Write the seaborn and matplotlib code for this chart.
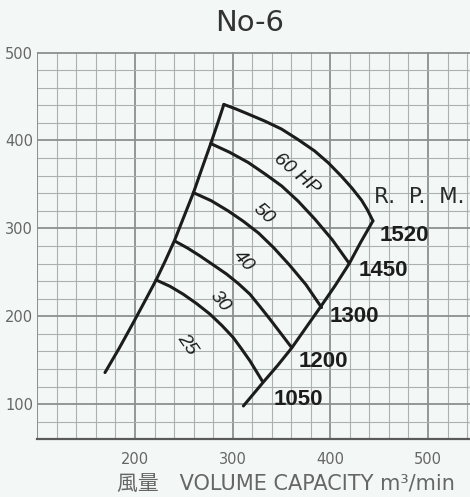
import pandas as pd
import seaborn as sns
import matplotlib.pyplot as plt
from matplotlib.ticker import MultipleLocator

# boundary curves (left = surge side, right = rpm line)
left_x = [291, 284.5, 277.6, 268.5, 259.9, 250, 240.6, 231, 221.5, 210, 198.3, 184, 169.3]
left_y = [441, 419, 396.5, 368, 340.7, 313, 286.6, 263, 241, 217, 192.8, 164, 136]
right_x = [443.6, 431, 419.4, 405, 390, 375, 360.5, 346, 331.3, 311]
right_y = [308.5, 284, 260, 235, 210.7, 187, 164, 144, 125, 98]

# constant horse-power curves
hp60_x = [291, 303, 316, 333, 350, 367, 384, 398, 411.6, 422, 432, 438, 443.6]
hp60_y = [441, 436, 430, 422, 413, 401, 388, 374.5, 359, 346, 332, 321, 308.5]
hp50_x = [277.6, 297, 316, 333, 350.1, 367, 384.2, 402, 419.4]
hp50_y = [396.5, 386.5, 374.9, 362, 348.3, 331, 310.5, 287, 260]
hp40_x = [259.7, 278, 295.2, 311, 326.7, 342, 358.2, 375, 391]
hp40_y = [340.7, 331.5, 320, 308, 294.5, 278, 258.3, 236, 210]
hp30_x = [240.9, 254, 266.5, 280, 293.9, 306, 317.7, 328, 338.2, 349, 360.4]
hp30_y = [285.5, 277.5, 268.7, 258.5, 247.9, 237, 225.1, 211, 196.7, 181, 164.4]
hp25_x = [221.5, 236, 249.4, 263, 276.8, 289, 300.6, 309, 317.7, 330.5]
hp25_y = [241.4, 234, 225.1, 214.5, 202.4, 189.5, 175.8, 163, 149.3, 126]

hp_labels = ["60 HP", "50", "40", "30", "25"]
hp_label_x = [365.5, 332, 311.4, 286.9, 252.9]
hp_label_y = [361.7, 316, 263, 216.7, 168.3]
hp_label_rot = [-40, -42, -48, -50, -55]

rpm_labels = ["1520", "1450", "1300", "1200", "1050"]
rpm_x = [450.8, 428.6, 399.6, 367.1, 341.6]
rpm_y = [291.5, 251.7, 199.3, 148.5, 105.7]

curves = {
    "left": (left_x, left_y),
    "right": (right_x, right_y),
    "60": (hp60_x, hp60_y),
    "50": (hp50_x, hp50_y),
    "40": (hp40_x, hp40_y),
    "30": (hp30_x, hp30_y),
    "25": (hp25_x, hp25_y),
}
rows = []
for name, (xs, ys) in curves.items():
    for i, (x, y) in enumerate(zip(xs, ys)):
        rows.append((name, i, x, y))
df = pd.DataFrame(rows, columns=["curve", "order", "volume", "pressure"])

sns.set_theme(style="whitegrid")
bg = "#f3f8f7"
fig = plt.figure(figsize=(4.70, 4.97), dpi=100, facecolor=bg)
ax = fig.add_axes([0.0794, 0.116, 0.9206, 0.780])
ax.set_facecolor(bg)

sns.lineplot(data=df, x="volume", y="pressure", units="curve", estimator=None,
             sort=False, color="#1c1c1c", linewidth=2.2, ax=ax, legend=False,
             solid_joinstyle="round", solid_capstyle="round")

ax.set_xlim(100, 543)
ax.set_ylim(60, 501)
ax.set_xticks([200, 300, 400, 500])
ax.set_yticks([100, 200, 300, 400, 500])
ax.xaxis.set_minor_locator(MultipleLocator(20))
ax.yaxis.set_minor_locator(MultipleLocator(20))
ax.grid(which="major", color="#8a908e", linewidth=1.3)
ax.grid(which="minor", color="#abb1af", linewidth=0.8)
ax.tick_params(axis="both", which="both", length=0, labelsize=10.5,
               labelcolor="#666666")
ax.tick_params(axis="x", pad=9)
ax.tick_params(axis="y", pad=3)
for s in ["top", "right", "left"]:
    ax.spines[s].set_visible(False)
ax.spines["bottom"].set_color("#5a5a5a")
ax.spines["bottom"].set_linewidth(1.6)
ax.axvline(100, color="#8a908e", linewidth=1.3)

for t, x, y, r in zip(hp_labels, hp_label_x, hp_label_y, hp_label_rot):
    ax.text(x, y, t, rotation=r, ha="center", va="center", fontsize=14,
            style="italic", color="#1c1c1c", family="Liberation Sans",
            rotation_mode="anchor")
for t, x, y in zip(rpm_labels, rpm_x, rpm_y):
    ax.text(x, y, t, ha="left", va="center", fontsize=16, fontweight="bold",
            color="#1c1c1c", family="Liberation Sans")
ax.text(444.6, 335.8, "R.  P.  M.", ha="left", va="center", fontsize=15.5,
        color="#2a2a2a")

ax.set_xlabel("風量　VOLUME CAPACITY m³/min", fontsize=15, color="#666666",
              family=["DejaVu Sans", "Noto Sans CJK JP"])
ax.xaxis.set_label_coords(0.575, -0.09)
ax.set_ylabel("")
fig.text(0.532, 0.954, "No-6", ha="center", va="center", fontsize=21,
         color="#333333")

fig.savefig("out.png", dpi=100, facecolor=bg)
